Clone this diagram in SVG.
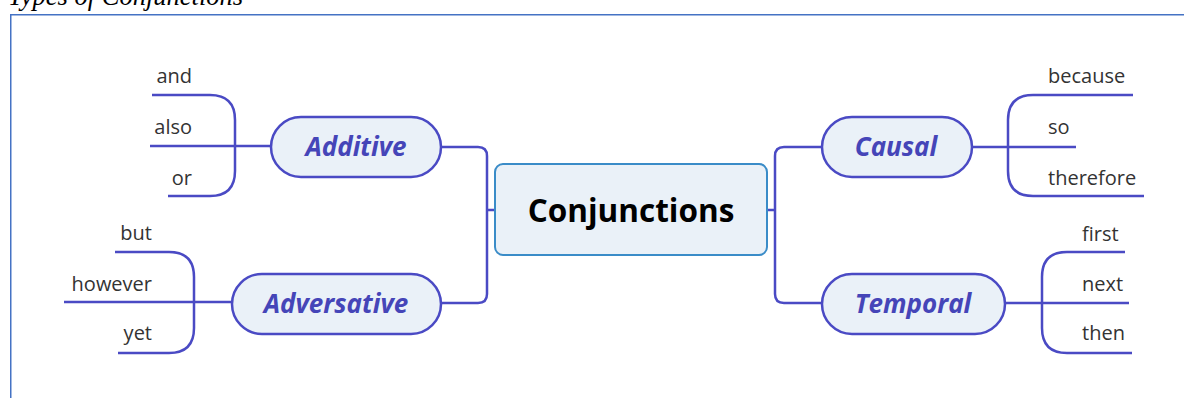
<svg xmlns="http://www.w3.org/2000/svg" width="1184" height="398" viewBox="0 0 1184 398">
<style>
.ln{fill:none;stroke:#4A4AC4;stroke-width:2.5;stroke-linecap:butt}
.topic{fill:#EAF1F8;stroke:#4A4AC4;stroke-width:2.5}
.tt{font-family:"Open Sans","Noto Sans",sans-serif;font-weight:bold;font-style:italic;font-size:26px;fill:#4545B8;text-anchor:middle}
.leaf{font-family:"Open Sans","Noto Sans",sans-serif;font-size:20px;fill:#333}
.r{text-anchor:end}
</style>
<rect width="1184" height="398" fill="#fff"/>
<text x="8" y="5" font-family="Liberation Serif,serif" font-style="italic" font-size="26.5" fill="#000">Types of Conjunctions</text>
<rect x="10.75" y="14.75" width="1190" height="400" fill="none" stroke="#4472C4" stroke-width="1.5"/>
<g id="connectors">
<path class="ln" d="M441,147 H478 Q487,147 487,156 V294 Q487,303 478,303 H441 M487,210 H495"/>
<path class="ln" d="M822,147 H784 Q775,147 775,156 V294 Q775,303 784,303 H822 M767,210 H775"/>
<path class="ln" d="M152,95 H210 Q235,95 235,120 V171 Q235,196 210,196 H168 M150,146 H271"/>
<path class="ln" d="M115,252 H169 Q194,252 194,277 V328 Q194,353 169,353 H118 M64,302 H232"/>
<path class="ln" d="M1133,95 H1033 Q1008,95 1008,120 V171 Q1008,196 1033,196 H1144 M972,147 H1076"/>
<path class="ln" d="M1125,252 H1067 Q1042,252 1042,277 V328 Q1042,353 1067,353 H1132 M1005,303 H1129"/>
</g>
<g id="center">
<rect x="495" y="164" width="272" height="91" rx="8" fill="#EAF1F8" stroke="#3A8CC8" stroke-width="2"/>
<text x="631" y="222" font-family="Open Sans,Noto Sans,sans-serif" font-weight="bold" font-size="31.5" fill="#000" text-anchor="middle">Conjunctions</text>
</g>
<g id="additive">
<rect class="topic" x="271" y="117" width="170" height="60" rx="30"/>
<text class="tt" x="356" y="156">Additive</text>
</g>
<g id="adversative">
<rect class="topic" x="232" y="274" width="209" height="60" rx="30"/>
<text class="tt" x="336" y="313">Adversative</text>
</g>
<g id="causal">
<rect class="topic" x="822" y="117" width="150" height="60" rx="30"/>
<text class="tt" x="896" y="156">Causal</text>
</g>
<g id="temporal">
<rect class="topic" x="822" y="274" width="183" height="60" rx="30"/>
<text class="tt" x="913" y="313">Temporal</text>
</g>
<g id="leaves">
<text class="leaf r" x="192" y="83">and</text>
<text class="leaf r" x="192" y="134">also</text>
<text class="leaf r" x="192" y="185">or</text>
<text class="leaf r" x="152" y="240">but</text>
<text class="leaf r" x="152" y="291">however</text>
<text class="leaf r" x="152" y="340">yet</text>
<text class="leaf" x="1048" y="83">because</text>
<text class="leaf" x="1048" y="134">so</text>
<text class="leaf" x="1048" y="185">therefore</text>
<text class="leaf" x="1082" y="241">first</text>
<text class="leaf" x="1082" y="291">next</text>
<text class="leaf" x="1082" y="340">then</text>
</g>
</svg>
